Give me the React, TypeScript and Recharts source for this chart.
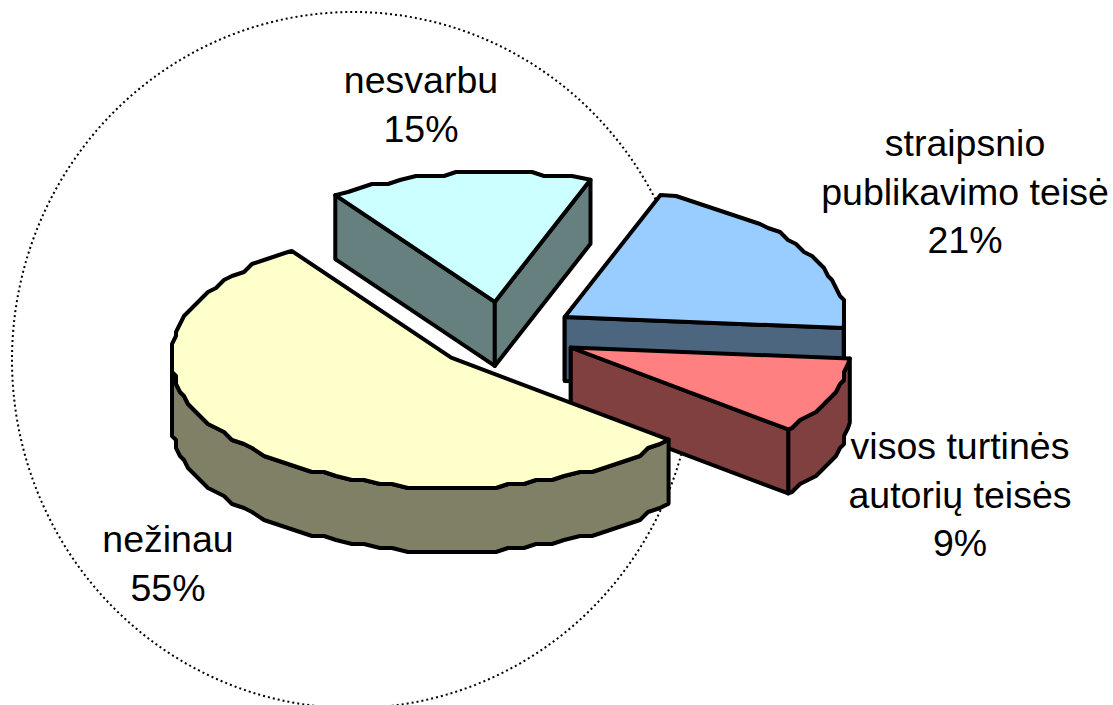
import { PieChart, Pie } from "recharts";

const categories = ["straipsnio publikavimo teisė", "visos turtinės autorių teisės", "nežinau", "nesvarbu"];
// estimated shares, the labels show them rounded
const percents = [20.8, 9.49, 54.5, 15.2];
const topColors = ["#99CCFF", "#FF8080", "#FFFFCC", "#CCFFFF"];
const sideColors = ["#4D6680", "#804040", "#808066", "#668080"];

const labelLines = [
  ["straipsnio", "publikavimo teisė"],
  ["visos turtinės", "autorių teisės"],
  ["nežinau"],
  ["nesvarbu"],
];
// center x and first baseline of each label
const labelSpots = [
  [965, 156],
  [960, 459],
  [168, 552],
  [421, 93],
];

const data = categories.map((name, i) => ({ name, value: percents[i], side: sideColors[i], fill: topColors[i] }));

const SQUASH = 0.464;
const DEPTH = 64;
const EXPLODE = 72;
const GRID = 4;
const RAD = Math.PI / 180;
const LINE = { stroke: "#000", strokeWidth: 4, strokeLinejoin: "round" as const };

function SliceShape(props: any) {
  const { cx, cy, outerRadius: r, startAngle, endAngle, midAngle, fill, side } = props;
  const ax = cx + EXPLODE * Math.cos(midAngle * RAD);
  const ay = cy - EXPLODE * Math.sin(midAngle * RAD) * SQUASH;
  const rim = (a: number) => [ax + r * Math.cos(a * RAD), ay - r * Math.sin(a * RAD) * SQUASH];
  // old office charts draw the rim from rounded coordinates, hence the wobble
  const rough = (p: number[]) => [Math.round(p[0] / GRID) * GRID, Math.round(p[1] / GRID) * GRID];

  const hi = Math.max(startAngle, endAngle);
  const lo = Math.min(startAngle, endAngle);
  const arcPts: number[][] = [rim(hi)];
  for (let a = hi - 3; a > lo + 1; a -= 3) arcPts.push(rough(rim(a)));
  arcPts.push(rim(lo));

  const toD = (pts: number[][]) => "M" + pts.map((p) => p[0].toFixed(1) + "," + p[1].toFixed(1)).join("L") + "Z";
  const down = (p: number[]) => [p[0], p[1] + DEPTH];

  const faces: number[][][] = [];
  // outer wall, only the part turned to the viewer
  const front: number[][] = [];
  const frontAngle = (a: number) => Math.sin(a * RAD) <= 0;
  for (let a = hi; a >= lo; a -= 3) if (frontAngle(a)) front.push(rough(rim(a)));
  if (frontAngle(lo)) front.push(rim(lo));
  if (front.length > 1) {
    if (frontAngle(hi)) front[0] = rim(hi);
    faces.push([...front, ...[...front].reverse().map(down)]);
  }
  // cut walls
  const apex = [ax, ay];
  if (Math.cos(startAngle * RAD) < 0) faces.push([apex, rim(startAngle), down(rim(startAngle)), down(apex)]);
  if (Math.cos(endAngle * RAD) > 0) faces.push([apex, rim(endAngle), down(rim(endAngle)), down(apex)]);

  return (
    <g>
      <path d={`M${ax},${ay}L${ax},${ay + DEPTH}`} {...LINE} />
      {faces.map((f, i) => (
        <path key={i} d={toD(f)} fill={side} {...LINE} />
      ))}
      <path d={toD([apex, ...arcPts])} fill={fill} {...LINE} />
    </g>
  );
}

function sliceLabel(props: any) {
  const { index, value } = props;
  const [x, y] = labelSpots[index];
  const lines = [...labelLines[index], Math.round(value) + "%"];
  return (
    <text key={index} x={x} y={y} textAnchor="middle" fontFamily="Liberation Sans" fontSize={37.5} fill="#000">
      {lines.map((t, i) => (
        <tspan key={i} x={x} dy={i === 0 ? 0 : 48.5}>
          {t}
        </tspan>
      ))}
    </text>
  );
}

export default function App() {
  return (
    <div style={{ position: "absolute", left: 0, top: 0, width: 1113, height: 705, overflow: "hidden", background: "#fff" }}>
      <PieChart width={1113} height={705} margin={{ top: 0, right: 0, bottom: 0, left: 0 }}>
        <Pie
          data={data}
          dataKey="value"
          nameKey="name"
          cx={504}
          cy={335}
          outerRadius={280}
          startAngle={70}
          endAngle={-290}
          stroke="none"
          shape={SliceShape}
          label={sliceLabel}
          labelLine={false}
          isAnimationActive={false}
        />
        <ellipse cx={353} cy={360} rx={341} ry={348} fill="none" stroke="#000" strokeWidth={2} strokeDasharray="2 3" />
      </PieChart>
    </div>
  );
}
